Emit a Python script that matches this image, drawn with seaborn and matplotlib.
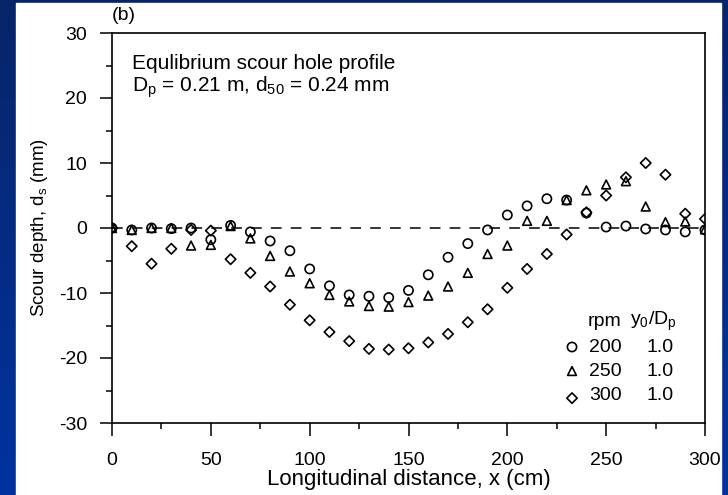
import numpy as np
import pandas as pd
import matplotlib
matplotlib.use("Agg")
import matplotlib.pyplot as plt
import seaborn as sns
from matplotlib.patches import Rectangle
from matplotlib.ticker import MultipleLocator

# ---- data ----
x_cm = [0, 10, 20, 30, 40, 50, 60, 70, 80, 90, 100, 110, 120, 130, 140, 150,
        160, 170, 180, 190, 200, 210, 220, 230, 240, 250, 260, 270, 280, 290, 300]
ds_200 = [0, -0.3, 0, -0.1, 0, -1.8, 0.4, -0.6, -2.0, -3.5, -6.3, -8.9, -10.3, -10.5, -10.7, -9.6,
          -7.2, -4.5, -2.4, -0.3, 2.0, 3.4, 4.5, 4.3, 2.3, 0.15, 0.3, -0.15, -0.3, -0.6, -0.3]
ds_250 = [0, -0.3, 0, 0, -2.7, -2.6, 0.3, -1.6, -4.3, -6.7, -8.5, -10.3, -11.3, -12.0, -12.1, -11.4,
          -10.4, -9.0, -6.9, -4.0, -2.7, 1.1, 1.1, 4.3, 5.8, 6.7, 7.2, 3.3, 0.9, 1.0, -0.2]
ds_300 = [0, -2.8, -5.5, -3.2, -0.3, -0.4, -4.8, -6.9, -9.0, -11.8, -14.2, -16.0, -17.4, -18.6, -18.7, -18.5,
          -17.6, -16.3, -14.5, -12.5, -9.2, -6.3, -4.0, -1.0, 2.4, 5.0, 7.8, 10.0, 8.2, 2.2, 1.4]
rpm_labels = ["200", "250", "300"]
y0_over_Dp = ["1.0", "1.0", "1.0"]
x_ticks = [0, 50, 100, 150, 200, 250, 300]
y_ticks = [-30, -20, -10, 0, 10, 20, 30]

sns.set_theme(style="white")
plt.rcParams["font.family"] = ["Liberation Sans", "DejaVu Sans"]
plt.rcParams["mathtext.fontset"] = "custom"
plt.rcParams["mathtext.rm"] = "Liberation Sans"
plt.rcParams["mathtext.it"] = "Liberation Sans"
plt.rcParams["mathtext.default"] = "regular"
plt.rcParams["axes.unicode_minus"] = False

W, H = 728, 495
fig = plt.figure(figsize=(W / 100, H / 100), dpi=100)

# blue gradient frame + white panel
bg = fig.add_axes([0, 0, 1, 1], zorder=-10)
grad = np.linspace(0, 1, 256)[:, None]
top = np.array([8, 36, 104]) / 255
bot = np.array([0, 51, 160]) / 255
img = top[None, None, :] * (1 - grad[:, :, None]) + bot[None, None, :] * grad[:, :, None]
bg.imshow(img, aspect="auto", extent=[0, 1, 0, 1])
bg.add_patch(Rectangle((16 / W, 0), (721 - 16) / W, (H - 3) / H, color="white", transform=bg.transAxes))
bg.set_axis_off()

L, R, T, B = 112, 705, 33, 423
ax = fig.add_axes([L / W, 1 - B / H, (R - L) / W, (B - T) / H])
ax.patch.set_alpha(0)

df = pd.concat([
    pd.DataFrame({"x": x_cm, "ds": ds_200, "rpm": "200"}),
    pd.DataFrame({"x": x_cm, "ds": ds_250, "rpm": "250"}),
    pd.DataFrame({"x": x_cm, "ds": ds_300, "rpm": "300"}),
])
markers = {"200": "o", "250": "^", "300": "D"}
sizes = {"200": 44, "250": 40, "300": 28}

ax.axhline(0, color="black", lw=1.1, ls=(0, (7, 6)), zorder=1)
for r in rpm_labels:
    sub = df[df["rpm"] == r]
    sns.scatterplot(data=sub, x="x", y="ds", marker=markers[r], s=sizes[r], ax=ax,
                    legend=False, zorder=3)
    coll = ax.collections[-1]
    coll.set_facecolor("none")
    coll.set_edgecolor("black")
    coll.set_linewidth(1.2)

ax.set_xlim(0, 300)
ax.set_ylim(-30, 30)
ax.set_xticks(x_ticks)
ax.set_yticks(y_ticks)
ax.xaxis.set_minor_locator(MultipleLocator(25))
ax.yaxis.set_minor_locator(MultipleLocator(5))
ax.tick_params(which="major", direction="out", length=9, width=1.1, color="black",
               labelsize=14, labelcolor="black", pad=9, bottom=True, left=True)
ax.tick_params(axis="x", which="major", pad=12)
ax.tick_params(which="minor", direction="out", length=4.5, width=1.1, color="black",
               bottom=True, left=True)
for s in ax.spines.values():
    s.set_visible(True)
    s.set_color("black")
    s.set_linewidth(1.2)

ax.set_xlabel("Longitudinal distance, x (cm)", fontsize=16, color="black", labelpad=0)
ax.set_ylabel("Scour depth, d$_\\mathregular{s}$ (mm)", fontsize=13.5, color="black", labelpad=6)

ax.text(0.0, 1.045, "(b)", transform=ax.transAxes, fontsize=14, ha="left", va="center", color="black")
ax.text(0.034, 0.923, "Equlibrium scour hole profile", transform=ax.transAxes,
        fontsize=15, ha="left", va="center", color="black")
ax.text(0.034, 0.862, "D$_\\mathregular{p}$ = 0.21 m, d$_\\mathregular{50}$ = 0.24 mm", transform=ax.transAxes,
        fontsize=15, ha="left", va="center", color="black")

# legend block
ax.text((588 - L) / (R - L), (B - 321) / (B - T), "rpm", transform=ax.transAxes,
        fontsize=14, ha="left", va="center", color="black")
ax.text((630 - L) / (R - L), (B - 321) / (B - T), "y$_\\mathregular{0}$/D$_\\mathregular{p}$",
        transform=ax.transAxes, fontsize=14, ha="left", va="center", color="black")
row_y = [347, 371, 395]
for r, v, yy in zip(rpm_labels, y0_over_Dp, row_y):
    yax = (B - yy) / (B - T)
    myy = yax - (0.008 if r == "300" else 0)
    ax.scatter([(572 - L) / (R - L)], [myy], transform=ax.transAxes, marker=markers[r],
               s=sizes[r], facecolors="none", edgecolors="black", linewidths=1.2, clip_on=False)
    ax.text((589 - L) / (R - L), yax, r, transform=ax.transAxes, fontsize=14,
            ha="left", va="center", color="black")
    ax.text((647 - L) / (R - L), yax, v, transform=ax.transAxes, fontsize=14,
            ha="left", va="center", color="black")

fig.savefig("out.png", dpi=100)
